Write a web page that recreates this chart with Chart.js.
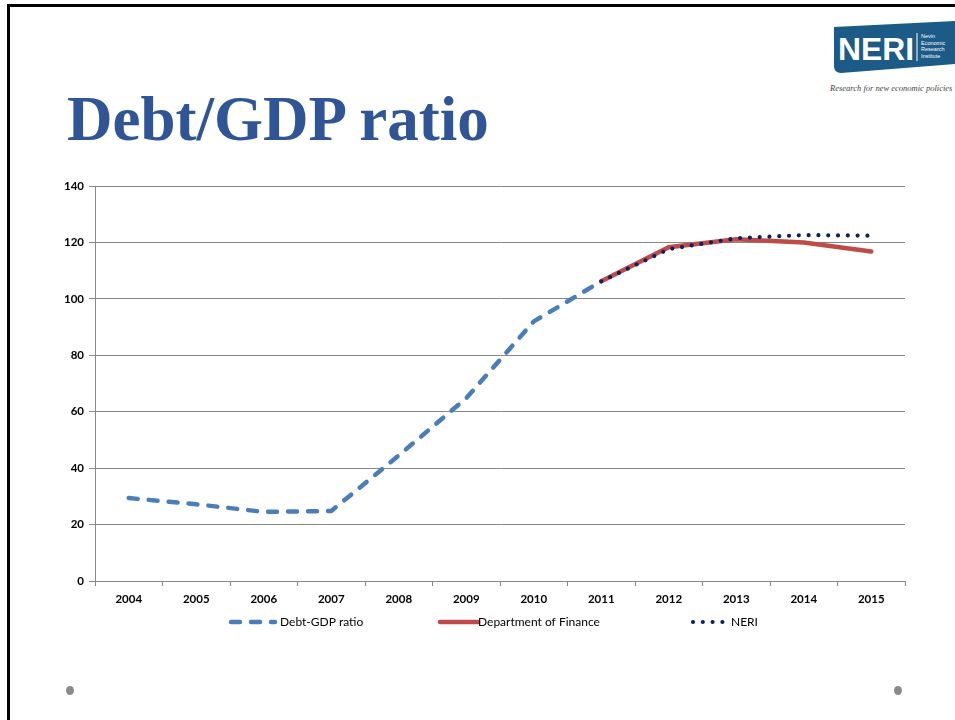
<!DOCTYPE html>
<html>
<head>
<meta charset="utf-8">
<script src="https://cdn.jsdelivr.net/npm/chart.js@4.4.0/dist/chart.umd.min.js"></script>
<style>
  html, body { margin: 0; padding: 0; background: #fff; }
  #slide { position: relative; width: 955px; height: 720px; overflow: hidden; background: #fff; }
  #frameTop { position: absolute; left: 7px; top: 4px; right: 0; height: 3px; background: #000; }
  #frameLeft { position: absolute; left: 7px; top: 4px; width: 3px; bottom: 0; background: #000; }
  #title { position: absolute; left: 67px; top: 88px; font-family: "Liberation Serif", "Times New Roman", serif;
           font-weight: bold; font-size: 63px; color: #2f5597; white-space: nowrap; line-height: 1; }
  #logo { position: absolute; left: 0; top: 0; }
  .bullet { position: absolute; width: 8px; height: 9px; border-radius: 50%; background: #8a8a8a; }
  #chartBox { position: absolute; left: 0; top: 0; width: 955px; height: 720px; }
</style>
</head>
<body>
<div id="slide">
  <div id="frameTop"></div>
  <div id="frameLeft"></div>
  <svg id="logo" width="955" height="110" viewBox="0 0 955 110">
    <path d="M834 27 L955 21 L955 64 L841 73 Q834 73 834 66 Z" fill="#1c5a87"/>
    <text x="838" y="60" fill="#fff" font-family="Liberation Sans, Arial, sans-serif" font-weight="bold" font-size="32" textLength="76" lengthAdjust="spacingAndGlyphs">NERI</text>
    <line x1="917" y1="33" x2="917" y2="61" stroke="#fff" stroke-width="1"/>
    <g fill="#fff" font-family="Liberation Sans, Arial, sans-serif" font-size="5.5">
      <text x="921" y="38">Nevin</text>
      <text x="921" y="44.5">Economic</text>
      <text x="921" y="51">Research</text>
      <text x="921" y="57.5">Institute</text>
    </g>
    <text x="830" y="91" fill="#444" font-family="Liberation Serif, serif" font-style="italic" font-size="8.5">Research for new economic policies</text>
  </svg>
  <div id="title">Debt/GDP ratio</div>
  <div class="bullet" style="left:66px; top:686px;"></div>
  <div class="bullet" style="left:894px; top:686px;"></div>
  <div id="chartBox"><canvas id="chart" width="955" height="720"></canvas></div>
</div>
<script>
// Years on the category axis
const years = ['2004', '2005', '2006', '2007', '2008', '2009', '2010', '2011', '2012', '2013', '2014', '2015'];
// Outturn debt-to-GDP ratio (%)
const debtGdp = [29.4, 27.2, 24.5, 24.8, 44.5, 64.8, 92.0, 106.2, null, null, null, null];
// Department of Finance projection (%)
const deptFinance = [null, null, null, null, null, null, null, 106.2, 118.3, 121.1, 120.0, 116.8];
// NERI projection (%)
const neri = [null, null, null, null, null, null, null, 106.2, 117.6, 121.5, 122.6, 122.4];
// Value axis ticks
const yTicks = [0, 20, 40, 60, 80, 100, 120, 140];

const seriesNames = ['Debt-GDP ratio', 'Department of Finance', 'NERI'];

// Legend drawn along the bottom, using each dataset's own stroke style
const bottomLegend = {
  id: 'bottomLegend',
  afterDraw(chart) {
    const ctx = chart.ctx;
    const y = 622;
    const items = [
      { ds: 0, x0: 231, x1: 275, tx: 280 },
      { ds: 1, x0: 440, x1: 478, tx: 478 },
      { ds: 2, x0: 693, x1: 727, tx: 731 }
    ];
    ctx.save();
    items.forEach(it => {
      const d = chart.data.datasets[it.ds];
      ctx.beginPath();
      ctx.strokeStyle = d.borderColor;
      ctx.lineWidth = d.borderWidth;
      ctx.lineCap = d.borderCapStyle || 'butt';
      ctx.setLineDash(d.borderDash || []);
      ctx.moveTo(it.x0, y);
      ctx.lineTo(it.x1, y);
      ctx.stroke();
      ctx.setLineDash([]);
      ctx.fillStyle = '#000';
      ctx.font = '12px Lato, "Liberation Sans", Arial, sans-serif';
      ctx.textBaseline = 'middle';
      ctx.textAlign = 'left';
      ctx.fillText(d.label, it.tx, y + 0.5);
    });
    ctx.restore();
  }
};

new Chart(document.getElementById('chart'), {
  type: 'line',
  data: {
    labels: years,
    datasets: [
      {
        label: seriesNames[0],
        data: debtGdp,
        borderColor: '#4a7ebb',
        borderWidth: 4.5,
        borderDash: [9, 11],
        borderCapStyle: 'round',
        pointRadius: 0,
        tension: 0,
        order: 2
      },
      {
        label: seriesNames[1],
        data: deptFinance,
        borderColor: '#be4b48',
        borderWidth: 4.5,
        borderCapStyle: 'round',
        pointRadius: 0,
        tension: 0,
        order: 1
      },
      {
        label: seriesNames[2],
        data: neri,
        borderColor: '#0b2160',
        borderWidth: 4.2,
        borderDash: [0, 9.8],
        borderCapStyle: 'round',
        pointRadius: 0,
        tension: 0,
        order: 0
      }
    ]
  },
  options: {
    responsive: false,
    animation: false,
    events: [],
    layout: { padding: { left: 50, right: 50, top: 186, bottom: 109 } },
    plugins: {
      legend: { display: false },
      tooltip: { enabled: false },
      title: { display: false }
    },
    scales: {
      x: {
        offset: true,
        afterFit(scale) { scale.height = 30; },
        grid: { display: true, offset: true, drawOnChartArea: false, drawTicks: true, tickLength: 5, color: '#888888', lineWidth: 1 },
        border: { display: true, color: '#888888', width: 1 },
        ticks: {
          color: '#000',
          padding: 6,
          maxRotation: 0,
          font: { family: 'Lato, "Liberation Sans", Arial, sans-serif', size: 11.5, weight: 'bold' }
        }
      },
      y: {
        min: 0,
        max: 140,
        afterFit(scale) { scale.width = 45; },
        afterBuildTicks(scale) { scale.ticks = yTicks.map(v => ({ value: v })); },
        grid: { color: '#888888', lineWidth: 1, drawTicks: true, tickLength: 6 },
        border: { display: true, color: '#888888', width: 1 },
        ticks: {
          color: '#000',
          padding: 5,
          font: { family: 'Lato, "Liberation Sans", Arial, sans-serif', size: 11.5, weight: 'bold' }
        }
      }
    }
  },
  plugins: [bottomLegend]
});
</script>
</body>
</html>
